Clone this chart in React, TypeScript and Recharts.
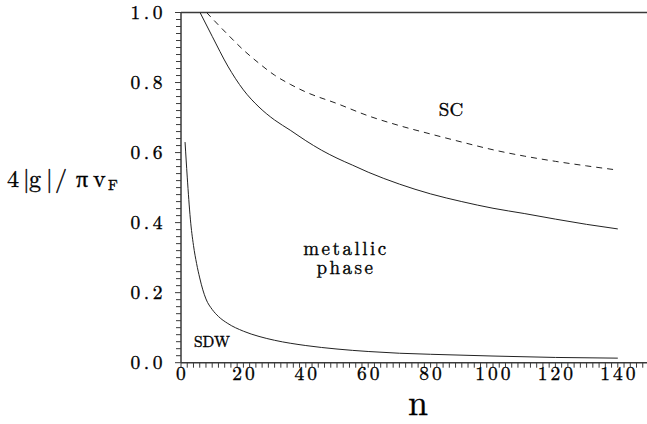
import React from 'react';
import { LineChart, Line, XAxis, YAxis, ReferenceLine, Customized } from 'recharts';

document.body.style.margin = '0';

// upper solid boundary (metallic / SC crossover)
const solidN = [6.1, 10, 15, 20, 25, 30, 35, 40, 45, 50, 55, 60, 70, 80, 90, 100, 110, 120, 130, 140];
const solidVal = [1.0, 0.932, 0.847, 0.779, 0.73, 0.693, 0.664, 0.634, 0.607, 0.584, 0.564, 0.544, 0.51, 0.482, 0.46, 0.441, 0.426, 0.41, 0.395, 0.382];

// dashed SC boundary
const dashN = [8.2, 10, 15, 20, 25, 30, 35, 40, 50, 60, 70, 80, 90, 100, 110, 120, 130, 140];
const dashVal = [1.0, 0.983, 0.937, 0.893, 0.855, 0.821, 0.795, 0.773, 0.74, 0.705, 0.677, 0.653, 0.63, 0.608, 0.59, 0.575, 0.562, 0.55];

// SDW boundary
const sdwN = [1.3, 2, 3, 4, 5, 6, 7, 8, 10, 12, 15, 20, 25, 30, 40, 50, 60, 70, 80, 100, 120, 140];
const sdwVal = [0.63, 0.53, 0.41, 0.335, 0.283, 0.242, 0.208, 0.182, 0.152, 0.132, 0.112, 0.09, 0.075, 0.064, 0.049, 0.039, 0.032, 0.027, 0.024, 0.019, 0.015, 0.013];

const xMajor = [0, 20, 40, 60, 80, 100, 120, 140];
const yMajor = [0, 0.2, 0.4, 0.6, 0.8, 1.0];
const xTicks = Array.from({ length: 76 }, (_, i) => i * 2);
const yTicks = Array.from({ length: 51 }, (_, i) => Math.round(i * 2) / 100);

const toRows = (ns: number[], vs: number[]) => ns.map((n, i) => ({ n, v: vs[i] }));
const solidData = toRows(solidN, solidVal);
const dashData = toRows(dashN, dashVal);
const sdwData = toRows(sdwN, sdwVal);

const FONT = '"Latin Modern Roman"';
const AXIS = '#3a3a3a';
const LINE = '#222';
const INK = '#000';
// slight stroke so the thin CM glyphs read like the scanned figure
const ink = { fill: INK, stroke: INK, strokeWidth: 0.35 };

const XTick = (props: any) => {
  const { x, y, payload } = props;
  const v = payload.value;
  const major = xMajor.includes(v);
  return (
    <g>
      <line x1={x} x2={x} y1={y} y2={y + 5} stroke={AXIS} strokeWidth={1} />
      {major && (
        <text x={x + 1.5} y={y + 17} textAnchor="middle" {...ink} style={{ fontFamily: FONT, fontSize: 19.5, letterSpacing: 3 }}>
          {v}
        </text>
      )}
    </g>
  );
};

const YTick = (props: any) => {
  const { x, y, payload } = props;
  const v = payload.value;
  const major = yMajor.some((m) => Math.abs(m - v) < 1e-6);
  return (
    <g>
      <line x1={x - (major ? 6 : 5)} x2={x} y1={y} y2={y} stroke={AXIS} strokeWidth={1} />
      {major && (
        <text x={x - 15} y={y + 6.5} textAnchor="end" {...ink} style={{ fontFamily: FONT, fontSize: 19.5, letterSpacing: 3.5 }}>
          {v.toFixed(1)}
        </text>
      )}
    </g>
  );
};

const Notes = () => (
  <g {...ink}>
    <text x={7} y={187} style={{ fontFamily: FONT, fontSize: 24 }}>
      <tspan x={7}>4</tspan>
      <tspan x={23}>|</tspan>
      <tspan x={29}>g</tspan>
      <tspan x={46}>|</tspan>
      <tspan x={55}>/</tspan>
      <tspan x={76}>π</tspan>
      <tspan x={93}>v</tspan>
      <tspan x={108} dy={3} style={{ fontSize: 15 }}>F</tspan>
    </text>
    <text x={418} y={415} textAnchor="middle" style={{ fontFamily: FONT, fontSize: 36 }}>n</text>
    <text x={451} y={116} textAnchor="middle" style={{ fontFamily: FONT, fontSize: 19 }}>SC</text>
    <text x={346} y={255} textAnchor="middle" style={{ fontFamily: FONT, fontSize: 19, letterSpacing: 2.5 }}>metallic</text>
    <text x={346} y={274} textAnchor="middle" style={{ fontFamily: FONT, fontSize: 19, letterSpacing: 2.5 }}>phase</text>
    <text x={194} y={347} style={{ fontFamily: FONT, fontSize: 15.5 }}>SDW</text>
  </g>
);

export default function App() {
  return (
    <div style={{ width: 647, height: 424, overflow: 'hidden', background: '#fff' }}>
      <LineChart width={652} height={424} margin={{ top: 12.5, right: 3, left: 0, bottom: 0 }}>
        <XAxis
          type="number"
          dataKey="n"
          domain={[0, 150]}
          ticks={xTicks}
          interval={0}
          tickSize={0}
          tickMargin={0}
          tick={<XTick />}
          tickLine={false}
          axisLine={{ stroke: AXIS, strokeWidth: 1.5 }}
          height={61.3}
          allowDataOverflow
        />
        <YAxis
          type="number"
          domain={[0, 1]}
          ticks={yTicks}
          interval={0}
          tickSize={0}
          tickMargin={0}
          tick={<YTick />}
          tickLine={false}
          axisLine={{ stroke: AXIS, strokeWidth: 1.5 }}
          width={181}
          allowDataOverflow
        />
        <ReferenceLine y={1} stroke={AXIS} strokeWidth={1.5} />
        <Line data={solidData} dataKey="v" type="monotone" stroke={LINE} strokeWidth={1} dot={false} isAnimationActive={false} />
        <Line data={dashData} dataKey="v" type="monotone" stroke={LINE} strokeWidth={1} strokeDasharray="6 5" dot={false} isAnimationActive={false} />
        <Line data={sdwData} dataKey="v" type="monotone" stroke={LINE} strokeWidth={1} dot={false} isAnimationActive={false} />
        <Customized component={Notes} />
      </LineChart>
    </div>
  );
}
